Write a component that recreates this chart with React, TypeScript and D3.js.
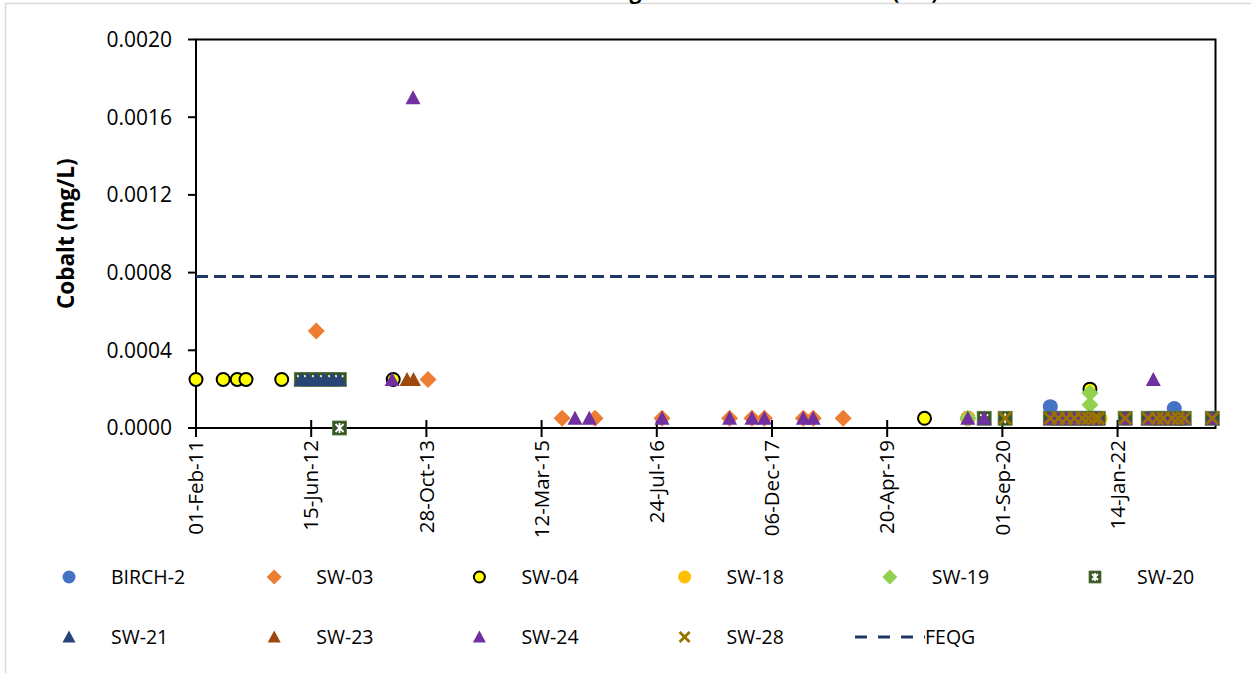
import React, { useRef, useEffect } from 'react';
import * as d3 from 'd3';

const WIDTH = 1251;
const HEIGHT = 673;

// axis settings
const yTicks = [0, 0.0004, 0.0008, 0.0012, 0.0016, 0.002];
const xTickDates = [
  '2011-02-01', '2012-06-15', '2013-10-28', '2015-03-12', '2016-07-24',
  '2017-12-06', '2019-04-20', '2020-09-01', '2022-01-14',
];
const xStart = '2011-02-01';
const xEnd = '2023-03-15';
const feqgValue = 0.00078;

// series: [sample date, cobalt mg/L]
const birch2: [string, number][] = [
  ['2021-03-28', 0.00011], ['2022-09-17', 0.0001],
];
const sw03: [string, number][] = [
  ['2012-07-07', 0.0005], ['2013-11-04', 0.00025], ['2015-06-09', 0.00005],
  ['2015-10-30', 0.00005], ['2016-08-16', 0.00005], ['2017-06-05', 0.00005],
  ['2017-09-10', 0.00005], ['2017-11-03', 0.00005], ['2018-04-21', 0.00005],
  ['2018-06-03', 0.00005], ['2018-10-11', 0.00005],
];
const sw04: [string, number][] = [
  ['2011-02-01', 0.00025], ['2011-05-30', 0.00025], ['2011-07-30', 0.00025],
  ['2011-09-06', 0.00025], ['2012-02-08', 0.00025], ['2013-06-06', 0.00025],
  ['2019-09-29', 0.00005], ['2020-04-04', 0.00005], ['2021-09-16', 0.0002],
];
const sw18: [string, number][] = [
  ['2020-04-04', 0.00005], ['2021-10-30', 0.00005],
];
const sw19: [string, number][] = [
  ['2020-04-04', 0.00005], ['2021-09-16', 0.00018], ['2021-09-16', 0.00012],
];
const sw20: [string, number][] = [
  ['2012-05-03', 0.00025], ['2012-06-02', 0.00025], ['2012-07-07', 0.00025],
  ['2012-08-11', 0.00025], ['2012-09-15', 0.00025], ['2012-10-15', 0.00025],
  ['2012-10-16', 0], ['2020-06-14', 0.00005], ['2020-09-13', 0.00005],
  ['2021-03-28', 0.00005], ['2021-05-02', 0.00005], ['2021-06-06', 0.00005],
  ['2021-07-10', 0.00005], ['2021-08-14', 0.00005], ['2021-09-09', 0.00005],
  ['2021-10-05', 0.00005], ['2021-10-22', 0.00005], ['2022-02-16', 0.00005],
  ['2022-05-27', 0.00005], ['2022-07-05', 0.00005], ['2022-07-31', 0.00005],
  ['2022-09-08', 0.00005], ['2022-10-04', 0.00005], ['2022-10-30', 0.00005],
  ['2023-03-01', 0.00005],
];
const sw21: [string, number][] = [
  ['2012-05-03', 0.00025], ['2012-06-02', 0.00025], ['2012-07-07', 0.00025],
  ['2012-08-11', 0.00025], ['2012-09-15', 0.00025], ['2012-10-15', 0.00025],
];
const sw23: [string, number][] = [
  ['2013-08-05', 0.00025], ['2013-09-02', 0.00025],
];
const sw24: [string, number][] = [
  ['2013-06-01', 0.00025], ['2013-08-31', 0.0017], ['2015-08-04', 0.00005],
  ['2015-10-05', 0.00005], ['2016-08-16', 0.00005], ['2017-06-05', 0.00005],
  ['2017-09-10', 0.00005], ['2017-11-03', 0.00005], ['2018-04-21', 0.00005],
  ['2018-06-03', 0.00005], ['2020-04-04', 0.00005], ['2020-06-14', 0.00005],
  ['2021-03-28', 0.00005], ['2021-05-02', 0.00005], ['2021-06-06', 0.00005],
  ['2021-07-10', 0.00005], ['2021-08-14', 0.00005], ['2021-09-09', 0.00005],
  ['2021-10-05', 0.00005], ['2021-10-22', 0.00005], ['2022-02-16', 0.00005],
  ['2022-05-27', 0.00005], ['2022-06-18', 0.00025], ['2022-07-05', 0.00005],
  ['2022-07-31', 0.00005], ['2022-09-08', 0.00005], ['2022-10-04', 0.00005],
  ['2022-10-30', 0.00005], ['2023-03-01', 0.00005],
];
const sw28: [string, number][] = [
  ['2020-09-13', 0.00005],
  ['2021-03-28', 0.00005], ['2021-05-02', 0.00005], ['2021-06-06', 0.00005],
  ['2021-07-10', 0.00005], ['2021-08-14', 0.00005], ['2021-09-09', 0.00005],
  ['2021-10-05', 0.00005], ['2021-10-22', 0.00005], ['2022-02-16', 0.00005],
  ['2022-05-27', 0.00005], ['2022-07-05', 0.00005], ['2022-07-31', 0.00005],
  ['2022-09-08', 0.00005], ['2022-10-04', 0.00005], ['2022-10-30', 0.00005],
  ['2023-03-01', 0.00005],
];

type Marker = 'circle' | 'diamond' | 'triangle' | 'star' | 'x';

interface Series {
  name: string;
  data: [string, number][];
  marker: Marker;
  color: string;
  stroke?: string;
}

const series: Series[] = [
  { name: 'BIRCH-2', data: birch2, marker: 'circle', color: '#4472C4' },
  { name: 'SW-03', data: sw03, marker: 'diamond', color: '#ED7D31' },
  { name: 'SW-04', data: sw04, marker: 'circle', color: '#FFFF00', stroke: '#000000' },
  { name: 'SW-18', data: sw18, marker: 'circle', color: '#FFC000' },
  { name: 'SW-19', data: sw19, marker: 'diamond', color: '#92D050' },
  { name: 'SW-20', data: sw20, marker: 'star', color: '#375623' },
  { name: 'SW-21', data: sw21, marker: 'triangle', color: '#264478' },
  { name: 'SW-23', data: sw23, marker: 'triangle', color: '#9E480E' },
  { name: 'SW-24', data: sw24, marker: 'triangle', color: '#7030A0' },
  { name: 'SW-28', data: sw28, marker: 'x', color: '#997300' },
];

const FONT = "'Open Sans', 'Noto Sans', sans-serif";

function drawMarker(
  g: d3.Selection<SVGGElement, unknown, null, undefined>,
  s: Series,
  cx: number,
  cy: number,
  size: number
) {
  const h = size / 2;
  if (s.marker === 'circle') {
    g.append('circle')
      .attr('cx', cx).attr('cy', cy)
      .attr('r', s.stroke ? h - 1 : h)
      .attr('fill', s.color)
      .attr('stroke', s.stroke || 'none')
      .attr('stroke-width', s.stroke ? 2 : 0);
  } else if (s.marker === 'diamond') {
    const d = h + 1;
    g.append('path')
      .attr('d', `M${cx},${cy - d}L${cx + d},${cy}L${cx},${cy + d}L${cx - d},${cy}Z`)
      .attr('fill', s.color);
  } else if (s.marker === 'triangle') {
    g.append('path')
      .attr('d', `M${cx},${cy - h}L${cx + h},${cy + h - 1}L${cx - h},${cy + h - 1}Z`)
      .attr('fill', s.color);
  } else if (s.marker === 'star') {
    const r = h - 0.5;
    g.append('rect')
      .attr('x', cx - r).attr('y', cy - r)
      .attr('width', 2 * r).attr('height', 2 * r)
      .attr('fill', s.color)
      .attr('stroke', '#5a7a45').attr('stroke-width', 0.8);
    const a = r - 3;
    g.append('path')
      .attr('d', `M${cx - a},${cy - a}L${cx + a},${cy + a}M${cx + a},${cy - a}L${cx - a},${cy + a}M${cx},${cy - a - 1}L${cx},${cy + a + 1}`)
      .attr('stroke', '#ffffff').attr('stroke-width', 1.8).attr('fill', 'none');
  } else {
    const a = h - 1.5;
    g.append('path')
      .attr('d', `M${cx - a},${cy - a}L${cx + a},${cy + a}M${cx + a},${cy - a}L${cx - a},${cy + a}`)
      .attr('stroke', s.color).attr('stroke-width', 2.8).attr('fill', 'none');
  }
}

const CobaltChart: React.FC = () => {
  const svgRef = useRef<SVGSVGElement>(null);

  useEffect(() => {
    if (!svgRef.current) return;
    const svg = d3.select(svgRef.current);
    svg.selectAll('*').remove();

    const parse = d3.timeParse('%Y-%m-%d');
    const fmt = d3.timeFormat('%d-%b-%y');
    const plot = { left: 196, right: 1215.5, top: 39.5, bottom: 428 };

    const x = d3.scaleTime()
      .domain([parse(xStart)!, parse(xEnd)!])
      .range([plot.left, plot.right]);
    const y = d3.scaleLinear()
      .domain([0, 0.002])
      .range([plot.bottom, plot.top]);

    // chart frame and cut-off title
    svg.append('rect')
      .attr('x', 5.5).attr('y', 3.5)
      .attr('width', 1260).attr('height', 700)
      .attr('fill', '#ffffff').attr('stroke', '#d9d9d9').attr('stroke-width', 1.5);

    svg.append('text')
      .attr('x', 640).attr('y', -1.5)
      .attr('text-anchor', 'middle')
      .attr('font-family', FONT).attr('font-size', 21).attr('font-weight', 'bold')
      .text('Cobalt Concentrations Along Surface Water Stations (SW)');

    const g = svg.append('g');

    // plot border
    g.append('rect')
      .attr('x', plot.left).attr('y', plot.top)
      .attr('width', plot.right - plot.left).attr('height', plot.bottom - plot.top)
      .attr('fill', 'none').attr('stroke', '#000').attr('stroke-width', 2);

    // y axis
    yTicks.forEach(t => {
      g.append('line')
        .attr('x1', plot.left - 8).attr('x2', plot.left)
        .attr('y1', y(t)).attr('y2', y(t))
        .attr('stroke', '#000').attr('stroke-width', 2);
      g.append('text')
        .attr('x', plot.left - 24).attr('y', y(t))
        .attr('dy', '0.35em')
        .attr('text-anchor', 'end')
        .attr('font-family', FONT).attr('font-size', 21)
        .attr('fill', '#000')
        .text(t.toFixed(4));
    });

    // x axis
    xTickDates.forEach(ds => {
      const d = parse(ds)!;
      const px = x(d);
      g.append('line')
        .attr('x1', px).attr('x2', px)
        .attr('y1', plot.bottom - 8).attr('y2', plot.bottom + 9)
        .attr('stroke', '#000').attr('stroke-width', 2);
      g.append('text')
        .attr('transform', `translate(${px},${plot.bottom + 12}) rotate(-90)`)
        .attr('dy', '0.35em')
        .attr('text-anchor', 'end')
        .attr('font-family', FONT).attr('font-size', 20.5)
        .attr('fill', '#000')
        .text(fmt(d));
    });

    g.append('text')
      .attr('transform', `translate(66,${(plot.top + plot.bottom) / 2}) rotate(-90)`)
      .attr('text-anchor', 'middle')
      .attr('dy', '0.35em')
      .attr('font-family', FONT).attr('font-size', 22.5).attr('font-weight', 'bold')
      .text('Cobalt (mg/L)');

    // data markers
    const marks = g.append('g');
    series.forEach(s => {
      s.data.forEach(([ds, v]) => {
        drawMarker(marks, s, x(parse(ds)!), y(v), 15);
      });
    });

    // guideline
    g.append('line')
      .attr('x1', plot.left).attr('x2', plot.right)
      .attr('y1', y(feqgValue)).attr('y2', y(feqgValue))
      .attr('stroke', '#1F3864').attr('stroke-width', 3)
      .attr('stroke-dasharray', '12,6');

    // legend
    const legend = svg.append('g');
    const colX = (i: number) => 69 + i * 205.2;
    const rowY = [577, 637];
    series.forEach((s, i) => {
      const cx = colX(i % 6);
      const cy = rowY[Math.floor(i / 6)];
      drawMarker(legend, s, cx, cy, 13);
      legend.append('text')
        .attr('x', cx + 42).attr('y', cy)
        .attr('dy', '0.35em')
        .attr('font-family', FONT).attr('font-size', 19.5)
        .attr('fill', '#000')
        .text(s.name);
    });
    legend.append('line')
      .attr('x1', 855).attr('x2', 925)
      .attr('y1', rowY[1]).attr('y2', rowY[1])
      .attr('stroke', '#1F3864').attr('stroke-width', 3)
      .attr('stroke-dasharray', '12,11');
    legend.append('text')
      .attr('x', 925).attr('y', rowY[1])
      .attr('dy', '0.35em')
      .attr('font-family', FONT).attr('font-size', 19.5)
      .text('FEQG');
  }, []);

  return (
    <svg
      ref={svgRef}
      width={WIDTH}
      height={HEIGHT}
      style={{ position: 'absolute', left: 0, top: 0, background: '#fff' }}
    />
  );
};

export default function App() {
  return <CobaltChart />;
}
